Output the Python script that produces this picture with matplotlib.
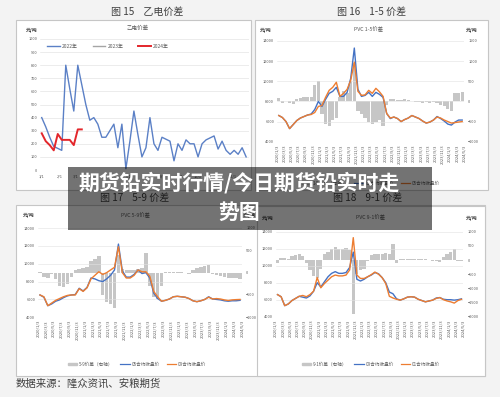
import numpy as np
import matplotlib
matplotlib.use('Agg')
import matplotlib.pyplot as plt
from matplotlib.patches import Rectangle, Patch
from matplotlib.lines import Line2D

plt.rcParams['font.family'] = ['Noto Sans CJK SC', 'DejaVu Sans']

W, H = 500, 397

# ---- 图15 乙电价差 (weekly) ----
yd2022 = [400, 330, 250, 180, 165, 150, 800, 620, 450, 800, 650, 500, 380, 400, 350, 250,
          250, 300, 350, 170, 350, 10, 220, 450, 270, 100, 170, 400, 200, 150, 250, 235,
          220, 70, 200, 150, 230, 200, 200, 100, 200, 230, 245, 260, 160, 220, 150, 120,
          150, 120, 170, 100]
yd2023 = []
yd2024 = [280, 220, 190, 150, 275, 230, 230, 230, 190, 310, 310]
md_labels = ['1/1', '2/1', '3/1', '4/1', '5/1', '6/1', '7/1', '8/1', '9/1', '10/1', '11/1', '12/1']
md_days = [0, 31, 59, 90, 120, 151, 181, 212, 243, 273, 304, 334]

# ---- 图16 1-5价差 (monthly, 2020/1 - 2024/4) ----
c2_blue = [6600, 6400, 6000, 5300, 5700, 6100, 6350, 6500, 6650, 6750,
           7200, 8000, 7500, 8200, 8800, 9000, 9400, 8500, 8500, 8900,
           10300, 13300, 9200, 8500, 8600, 8900, 8500, 8900, 8700, 8400,
           6800, 6300, 6450, 6300, 6000, 6200, 6350, 6600, 6450, 6300,
           6050, 5850, 5950, 6150, 6500, 6300, 6050, 5750, 5650, 5950,
           6150, 6150]
c2_orange = [6600, 6400, 6000, 5300, 5700, 6100, 6350, 6500, 6650, 6700,
             6900, 7500, 7600, 8400, 9100, 9400, 9900, 8500, 8800, 9200,
             10100, 11900, 9000, 8600, 8650, 9100, 8800, 9300, 8950, 8500,
             6800, 6350, 6450, 6300, 6000, 6200, 6350, 6600, 6450, 6300,
             6050, 5850, 5950, 6150, 6450, 6350, 6150, 6000, 5850, 5900,
             5950, 6000]
c2_spread = [80, -40, 20, -40, -60, 60, 80, 100, 110, 120,
             400, 500, -300, -550, -600, -450, -400, 100, 250, 200,
             500, 950, -250, -300, -400, -500, -550, -500, -450, -600,
             -80, 50, 60, 40, 30, 50, 30, 20, -20, -20,
             -30, -20, -30, -20, -40, -80, -120, -180, -250, 200,
             220, 230]

# ---- 图17 5-9价差 ----
c3_blue = [6500, 6250, 5300, 5500, 5800, 5950, 6200, 6400, 6500, 6550,
           7250, 6950, 7350, 8400, 8300, 8100, 8000, 8300, 8700, 9300,
           12200, 9200, 8500, 8500, 8800, 9300, 8900, 9000, 8400, 6700,
           6100, 5800, 5900, 6050, 6300, 6350, 6300, 6250, 6100, 5850,
           5750, 5850, 6000, 6300, 6050, 6000, 5950, 5850, 5800, 5850,
           5850, 5900]
c3_orange = [6500, 6300, 5300, 5600, 5900, 6100, 6300, 6450, 6500, 6500,
             7200, 6900, 7300, 8300, 8700, 9100, 8800, 9000, 9300, 9600,
             11900, 9000, 8400, 8400, 8700, 9300, 9100, 9100, 8600, 6900,
             6300, 5800, 5900, 6050, 6300, 6350, 6300, 6250, 6100, 5850,
             5750, 5850, 6000, 6250, 6050, 6100, 6050, 5950, 5880, 5950,
             5980, 6000]
c3_spread = [20, -100, -130, -20, -150, -300, -320, -250, -100, 60,
             80, 100, 120, 250, 300, 380, -500, -650, -700, -800,
             400, 80, 60, 50, 60, 80, 100, 450, -300, -550,
             -600, -300, 10, 20, 20, 10, 10, -10, -20, 60,
             100, 120, 140, 180, -40, -60, -80, -100, -110, -120,
             -130, -140]

# ---- 图18 9-1价差 ----
c4_blue = [6600, 6350, 5300, 5500, 5900, 6150, 6400, 6300, 6200, 6450,
           7000, 8000, 7500, 8100, 8700, 9100, 9300, 9100, 9100, 9200,
           9800, 11600, 8400, 8200, 8400, 8700, 8900, 9200, 9050, 8600,
           8000, 6900, 6700, 6100, 5950, 6100, 6300, 6350, 6300, 6050,
           5900, 5750, 5850, 5950, 6200, 6250, 6050, 6000, 6000, 5950,
           6000, 6100]
c4_orange = [6600, 6350, 5300, 5500, 5900, 6150, 6400, 6500, 6350, 6600,
             7000, 8600, 7400, 7900, 8300, 8700, 8900, 8800, 8800, 8900,
             9500, 13300, 8900, 8500, 8500, 8700, 8950, 9250, 9000, 8600,
             7900, 6400, 6200, 6050, 5950, 6100, 6300, 6350, 6300, 6050,
             5900, 5750, 5850, 5950, 6150, 6250, 6000, 5850, 5750, 5600,
             5900, 6050]
c4_spread = [-100, 60, 60, 40, 150, 180, 200, 150, -100, -350,
             -550, -650, -300, 200, 300, 400, 450, 400, 380, 420,
             350, -1900, -500, -350, -300, -50, 180, 200, 220, 220,
             250, 200, 550, -100, 30, 40, 30, 30, 30, 20,
             20, 20, 0, -40, -50, -60, 100, 200, 300, 380,
             -50, -50]

date_labels = [f'{2020 + k // 12}/{k % 12 + 1}/3' for k in range(0, 53, 2)]

BLUE = '#4472c4'
ORANGE = '#ed7d31'
BARC = '#c6c6c6'
TXT = '#595959'

fig = plt.figure(figsize=(5, 3.97), dpi=100, facecolor='#f3f3f3')


def frac(x0, y0, x1, y1):
    return [x0 / W, 1 - y1 / H, (x1 - x0) / W, (y1 - y0) / H]


def ftext(x, y, s, **kw):
    kw.setdefault('ha', 'center')
    kw.setdefault('va', 'center')
    fig.text(x / W, 1 - y / H, s, **kw)


def panel(x0, y0, x1, y1, fc='white'):
    fig.add_artist(Rectangle((x0 / W, 1 - y1 / H), (x1 - x0) / W, (y1 - y0) / H,
                             transform=fig.transFigure, facecolor=fc,
                             edgecolor='#c6c6c6', lw=0.8, zorder=-1))


# panels
panel(16, 20, 251, 190)
panel(255, 20, 488, 190)
panel(16, 205, 485, 376)
panel(257, 206, 485, 376)

ftext(147, 12, '图 15    乙电价差', fontsize=7.2, color='#3f3f3f')
ftext(372, 12, '图 16    1-5 价差', fontsize=7.2, color='#3f3f3f')
ftext(135, 198, '图 17    5-9 价差', fontsize=7.2, color='#3f3f3f')
ftext(368, 198, '图 18    9-1 价差', fontsize=7.2, color='#3f3f3f')
ftext(16, 384, '数据来源：隆众资讯、安粮期货', fontsize=7.5, color='#404040', ha='left')


def clean(ax):
    for s in ax.spines.values():
        s.set_visible(False)
    ax.tick_params(length=0, labelsize=2.8, colors=TXT)


# ---- chart 1 ----
ax1 = fig.add_axes(frac(40, 39, 249, 170))
week_days = np.arange(len(yd2022)) * 7
ax1.plot(week_days, yd2022, color='#5b80c6', lw=1.0, label='2022年')
ax1.plot(week_days[:len(yd2023)], yd2023, color='#a5a5a5', lw=1.0, label='2023年')
ax1.plot(week_days[:len(yd2024)], yd2024, color='#e3262b', lw=1.4, label='2024年')
ax1.set_ylim(0, 1000)
ax1.set_yticks(range(0, 1001, 100))
ax1.set_xlim(-3, 362)
ax1.set_xticks(md_days)
ax1.set_xticklabels(md_labels)
ax1.grid(axis='y', color='#dedede', lw=0.4)
ax1.set_axisbelow(True)
clean(ax1)
ax1.tick_params(axis='y', pad=2)
ax1.tick_params(axis='x', pad=3)
ax1.legend(loc='center', bbox_to_anchor=(108 / W, 1 - 46 / H), bbox_transform=fig.transFigure,
           ncol=3, frameon=False, fontsize=3.5, handlelength=2.6, columnspacing=3.0,
           handletextpad=0.5, labelcolor=TXT)
ftext(138, 28, '乙电价差', fontsize=4, color=TXT)
ftext(32, 30, '元/吨', fontsize=3.5, color='#404040', weight='bold')

xm = np.arange(52) + 0.5
tick_pos = np.arange(0, 53, 2)


def pvc(rect, blue, orange, spread, rlim, rstep, title, names, tpos, ulpos, urpos, legpos):
    ax = fig.add_axes(rect)
    axr = ax.twinx()
    ax.set_zorder(axr.get_zorder() + 1)
    ax.patch.set_visible(False)
    axr.bar(xm, spread, width=0.9, color=BARC, lw=0)
    ax.plot(xm, blue, color=BLUE, lw=1.0)
    ax.plot(xm, orange, color=ORANGE, lw=1.0)
    ax.set_ylim(4000, 14000)
    ax.set_yticks(range(4000, 14001, 2000))
    axr.set_ylim(*rlim)
    axr.set_yticks(np.arange(rlim[0], rlim[1] + 1, rstep))
    ax.set_xlim(0, 52)
    ax.set_xticks(tick_pos)
    ax.set_xticklabels(date_labels, rotation=90)
    ax.grid(axis='y', color='#e2e2e2', lw=0.4)
    clean(ax)
    clean(axr)
    ax.tick_params(axis='y', pad=2)
    axr.tick_params(axis='y', pad=3)
    ax.tick_params(axis='x', pad=2, labelsize=3.0)
    ftext(*tpos, title, fontsize=3.8, color=TXT)
    ftext(*ulpos, '元/吨', fontsize=3.5, color='#404040', weight='bold')
    ftext(*urpos, '元/吨', fontsize=3.5, color='#404040', weight='bold')
    handles = [Patch(color=BARC), Line2D([], [], color=BLUE, lw=0.9),
               Line2D([], [], color=ORANGE, lw=0.9)]
    ax.legend(handles, names, loc='center', bbox_to_anchor=(legpos[0] / W, 1 - legpos[1] / H),
              bbox_transform=fig.transFigure, ncol=3, frameon=False, fontsize=3.3,
              handlelength=2.0, handleheight=0.5, columnspacing=1.6, handletextpad=0.4,
              labelcolor=TXT)
    return ax


pvc(frac(277, 41, 464, 141.7), c2_blue, c2_orange, c2_spread, (-1000, 1500), 500,
    'PVC 1-5价差', ['1-5价差（右轴）', '01合约收盘价', '05合约收盘价'],
    (368, 29), (266, 30), (472, 30), (371, 183))
pvc(frac(38, 228, 242, 317.3), c3_blue, c3_orange, c3_spread, (-1000, 1000), 500,
    'PVC 5-9价差', ['5-9价差（右轴）', '05合约收盘价', '09合约收盘价'],
    (135, 215), (29, 215), (250, 215), (137, 364))
pvc(frac(275.7, 231.7, 463.3, 316.7), c4_blue, c4_orange, c4_spread, (-2000, 1000), 500,
    'PVC 9-1价差', ['9-1价差（右轴）', '09合约收盘价', '01合约收盘价'],
    (370, 217), (268, 218), (472, 218), (371, 364))

# overlay caption band
fig.add_artist(Rectangle((68 / W, 1 - 230 / H), (432 - 68) / W, (230 - 167) / H,
                         transform=fig.transFigure, facecolor='black', alpha=0.55,
                         lw=0, zorder=10))
fig.text(239 / W, 1 - 183 / H, '期货铅实时行情/今日期货铅实时走', fontsize=15,
         color='white', weight='bold', ha='center', va='center', zorder=11)
fig.text(239 / W, 1 - 212 / H, '势图', fontsize=15,
         color='white', weight='bold', ha='center', va='center', zorder=11)

fig.savefig('out.png', dpi=100, facecolor=fig.get_facecolor())
